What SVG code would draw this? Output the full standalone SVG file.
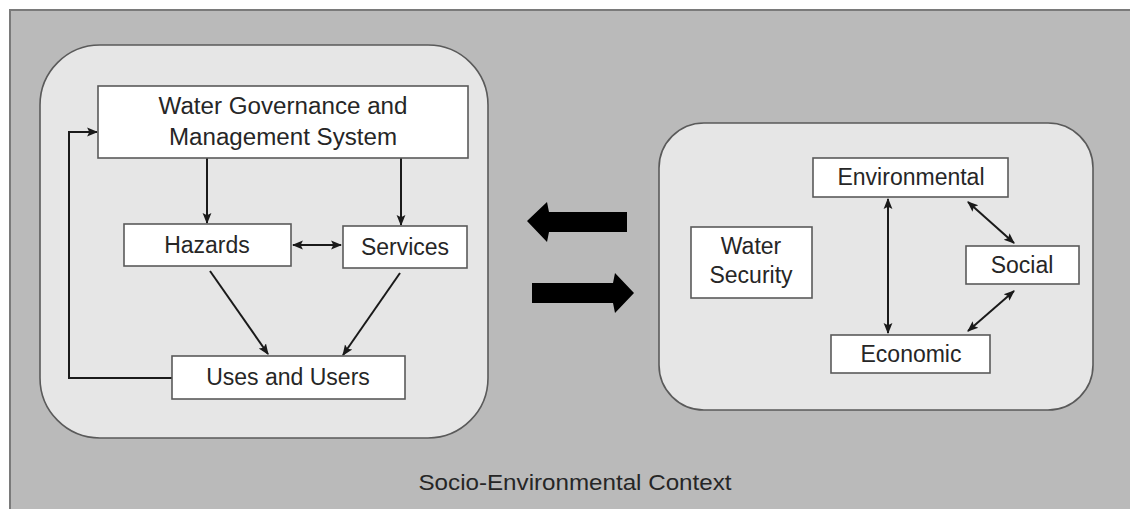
<svg xmlns="http://www.w3.org/2000/svg" width="1130" height="509" viewBox="0 0 1130 509">
  <style>
    .panel { fill: #e6e6e6; stroke: #5a5a5a; stroke-width: 1.6; }
    .box { fill: #ffffff; stroke: #5a5a5a; stroke-width: 1.6; }
    .lbl { font-family: "Liberation Sans", Arial, sans-serif; font-size: 23px; fill: #262626; text-anchor: middle; }
    .mid { font-size: 22px; }
    .link { fill: none; stroke: #1a1a1a; stroke-width: 2; }
    .big { fill: #000000; }
  </style>
  <defs>
    <marker id="head" viewBox="0 0 10 10" refX="9" refY="5" markerWidth="11" markerHeight="11" markerUnits="userSpaceOnUse" orient="auto-start-reverse">
      <path d="M0,1 L10,5 L0,9 L2,5 Z" fill="#1a1a1a"/>
    </marker>
  </defs>

  <!-- context background -->
  <rect x="0" y="0" width="1130" height="509" fill="#ffffff"/>
  <rect x="10" y="10" width="1125" height="505" fill="#bababa" stroke="#7a7a7a" stroke-width="2"/>

  <!-- panels -->
  <rect id="governance-panel" class="panel" x="40" y="45" width="448" height="393" rx="60" ry="60"/>
  <rect id="security-panel" class="panel" x="659" y="123" width="434" height="287" rx="45" ry="45"/>

  <!-- connectors -->
  <g id="connectors">
    <line class="link" x1="207" y1="158" x2="207" y2="223" marker-end="url(#head)"/>
    <line class="link" x1="401" y1="158" x2="401" y2="225" marker-end="url(#head)"/>
    <line class="link" x1="293" y1="245" x2="341" y2="245" marker-start="url(#head)" marker-end="url(#head)"/>
    <line class="link" x1="210" y1="271" x2="268" y2="354" marker-end="url(#head)"/>
    <line class="link" x1="400" y1="273" x2="343" y2="355" marker-end="url(#head)"/>
    <polyline class="link" points="172,378 69,378 69,132 97,132" marker-end="url(#head)"/>

    <line class="link" x1="888" y1="199" x2="888" y2="333" marker-start="url(#head)" marker-end="url(#head)"/>
    <line class="link" x1="968" y1="202" x2="1014" y2="243" marker-start="url(#head)" marker-end="url(#head)"/>
    <line class="link" x1="1014" y1="291" x2="968" y2="331" marker-start="url(#head)" marker-end="url(#head)"/>

    <polygon class="big" points="527,221 547,202 549,212 627,212 627,232 549,232 547,242"/>
    <polygon class="big" points="634,293 615,273 613,283 532,283 532,303 613,303 615,313"/>
  </g>

  <!-- nodes -->
  <g id="node-governance">
    <rect class="box" x="98" y="86" width="370" height="72"/>
    <text class="lbl" x="283" y="114" textLength="249" lengthAdjust="spacingAndGlyphs">Water Governance and</text>
    <text class="lbl" x="283" y="145" textLength="228" lengthAdjust="spacingAndGlyphs">Management System</text>
  </g>
  <g id="node-hazards">
    <rect class="box" x="124" y="224" width="167" height="42"/>
    <text class="lbl" x="207" y="253">Hazards</text>
  </g>
  <g id="node-services">
    <rect class="box" x="343" y="226" width="124" height="42"/>
    <text class="lbl" x="405" y="255">Services</text>
  </g>
  <g id="node-uses">
    <rect class="box" x="172" y="356" width="233" height="43"/>
    <text class="lbl" x="288" y="385">Uses and Users</text>
  </g>
  <g id="node-water-security">
    <rect class="box" x="691" y="227" width="121" height="71"/>
    <text class="lbl" x="751" y="254">Water</text>
    <text class="lbl" x="751" y="283">Security</text>
  </g>
  <g id="node-environmental">
    <rect class="box" x="813" y="158" width="195" height="39"/>
    <text class="lbl" x="911" y="185">Environmental</text>
  </g>
  <g id="node-social">
    <rect class="box" x="966" y="246" width="113" height="38"/>
    <text class="lbl" x="1022" y="273">Social</text>
  </g>
  <g id="node-economic">
    <rect class="box" x="831" y="335" width="159" height="38"/>
    <text class="lbl" x="911" y="362">Economic</text>
  </g>

  <text id="context-label" class="lbl mid" x="575" y="490" textLength="313" lengthAdjust="spacingAndGlyphs">Socio-Environmental Context</text>
</svg>
